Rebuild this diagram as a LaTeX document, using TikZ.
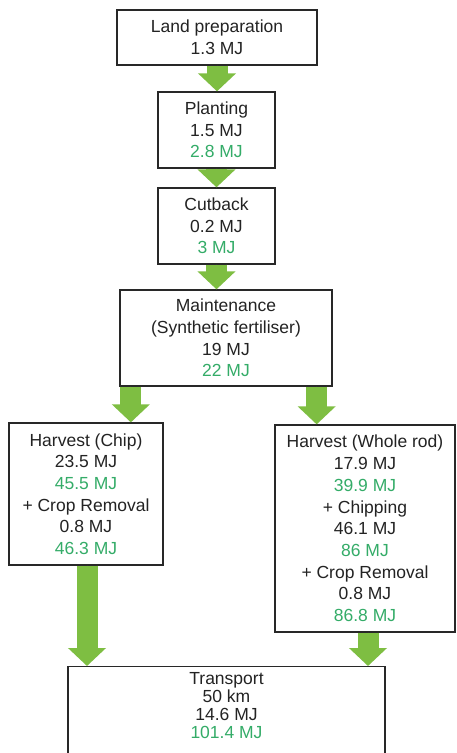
\documentclass[tikz,border=0pt]{standalone}
\usepackage{fontspec}
\setmainfont{Liberation Sans}
\usetikzlibrary{arrows.meta}
\definecolor{arrgreen}{RGB}{126,190,66}
\definecolor{txtgreen}{RGB}{52,172,104}
\definecolor{boxline}{RGB}{40,40,40}
\definecolor{txtdark}{RGB}{35,35,35}
\begin{document}
\begin{tikzpicture}[x=1pt,y=-1pt,
  box/.style={draw=boxline, line width=1.3pt, fill=white, align=center, inner sep=0pt,
    text=txtdark, font=\fontsize{17.5}{21.7}\selectfont},
  flow/.style={draw=arrgreen, line width=21pt, -{Triangle[width=37pt,length=18pt]}, fill=arrgreen},
  gt/.style={}]
\useasboundingbox (0,0) rectangle (457,753);
\clip (0,0) rectangle (457,753);
\fill[white] (0,0) rectangle (457,753);
\node[box, minimum width=200pt, minimum height=55pt] (lp) at (217,37.5) {Land preparation\\1.3 MJ};
\node[box, minimum width=117pt, minimum height=76pt] (pl) at (216.5,130) {Planting\\1.5 MJ\\\textcolor{txtgreen}{2.8 MJ}};
\node[box, minimum width=117pt, minimum height=76pt] (cb) at (216.5,226) {Cutback\\0.2 MJ\\\textcolor{txtgreen}{3 MJ}};
\node[box, minimum width=212pt, minimum height=96pt] (mt) at (226,338) {Maintenance\\(Synthetic fertiliser)\\19 MJ\\\textcolor{txtgreen}{22 MJ}};
\node[box, minimum width=154pt, minimum height=142pt] (hc) at (86,494) {Harvest (Chip)\\23.5 MJ\\\textcolor{txtgreen}{45.5 MJ}\\+ Crop Removal\\0.8 MJ\\\textcolor{txtgreen}{46.3 MJ}};
\node[box, minimum width=180pt, minimum height=207pt] (hw) at (365,528.5) {Harvest (Whole rod)\\17.9 MJ\\\textcolor{txtgreen}{39.9 MJ}\\+ Chipping\\46.1 MJ\\\textcolor{txtgreen}{86 MJ}\\+ Crop Removal\\0.8 MJ\\\textcolor{txtgreen}{86.8 MJ}};
\node[box, minimum width=317pt, minimum height=114pt, anchor=north] (tr) at (226.5,666) {};
\node[align=center, inner sep=0pt, text=txtdark, font=\fontsize{17.5}{18}\selectfont] (trt) at (226.5,706) {Transport\\50 km\\14.6 MJ\\\textcolor{txtgreen}{101.4 MJ}};
\coordinate (ml) at ([xshift=11.5pt]mt.south west);
\coordinate (mr) at ([xshift=-16pt]mt.south east);
\coordinate (hcs) at ([xshift=1pt]hc.south);
\coordinate (hws) at ([xshift=3pt]hw.south);
\draw[flow] (lp.south) -- (lp.south |- pl.north);
\draw[flow] (pl.south) -- (pl.south |- cb.north);
\draw[flow] (cb.south) -- (cb.south |- mt.north);
\draw[flow] (ml) -- (ml |- hc.north);
\draw[flow] (mr) -- (mr |- hw.north);
\draw[flow] (hcs) -- (hcs |- tr.north);
\draw[flow] (hws) -- (hws |- tr.north);
\end{tikzpicture}
\end{document}
